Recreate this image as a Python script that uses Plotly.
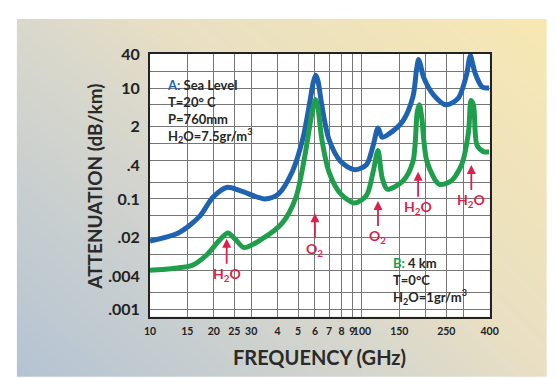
import numpy as np
import plotly.graph_objects as go

# ---------------- data ----------------
# Curve A: sea level, T=20C, P=760mm, H2O=7.5 g/m3
freq_a = [10, 13.6, 17.1, 19.8, 23.0, 26.8, 34.8, 40.4, 47.0, 52.6, 56.7, 59.0, 60.5, 62.0,
          64.6, 69.7, 79.4, 92.3, 105, 113, 119, 124.5, 134, 156, 174, 181, 185, 189, 195,
          218, 249, 284, 312, 320, 325, 331, 343, 369, 398]
atten_a = [0.0174, 0.0243, 0.0478, 0.107, 0.161, 0.140, 0.100, 0.123, 0.315, 1.22, 5.5, 13.0, 17.0, 13.5,
           5.0, 1.22, 0.472, 0.337, 0.413, 0.93, 1.9, 1.30, 1.49, 2.55, 7.0, 22.0, 33.0, 26.0, 16.0,
           7.5, 5.0, 6.5, 18.0, 32.0, 39.0, 30.0, 18.0, 10.5, 10.0]

# Curve B: 4 km, T=0C, H2O=1 g/m3
freq_b = [10, 12.6, 15.8, 18.4, 21.4, 23.3, 25.3, 27.8, 33.5, 42.0, 48.8, 53.5, 57.7, 59.5, 60.5,
          61.8, 64.6, 69.7, 79.4, 92.3, 105, 113, 119, 124.5, 131.5, 156, 174, 182.4, 186.6,
          191.5, 202.6, 231, 263, 295, 318, 327, 336, 349, 376, 398]
atten_b = [0.00516, 0.0055, 0.0063, 0.0095, 0.0185, 0.0243, 0.0185, 0.0132, 0.0185, 0.0365, 0.107,
           0.54, 3.1, 5.4, 6.2, 4.8, 1.22, 0.315, 0.123, 0.084, 0.115, 0.315, 0.75, 0.241, 0.150,
           0.210, 0.472, 3.8, 5.0, 2.9, 0.472, 0.184, 0.210, 0.413, 1.59, 6.0, 4.9, 0.93,
           0.708, 0.708]

x_tick_vals = [10, 15, 20, 25, 30, 40, 50, 60, 70, 80, 90, 100, 150, 250, 400]
x_tick_text = ["10", "15", "20", "25", "30", "4", "5", "6", "7", "8", "9", "100", "150", "250", "400"]
x_grid_vals = [15, 20, 25, 30, 40, 50, 60, 70, 80, 90, 100, 150, 200, 250, 300]

y_tick_vals = [40, 10, 2, 0.4, 0.1, 0.02, 0.004, 0.001]
y_tick_text = ["40", "10", "2", ".4", "0.1", ".02", ".004", ".001"]
y_grid_vals = [0.001, 0.002, 0.005, 0.01, 0.02, 0.05, 0.1, 0.2, 0.5, 1, 2, 5, 10, 20]

# absorption lines (arrow tip positions) and labels
line_freqs = [23, 60, 119, 184, 328]
line_tips = [0.019, 0.055, 0.092, 0.31, 0.41]
line_labels = ["H<sub>2</sub>O", "O<sub>2</sub>", "O<sub>2</sub>", "H<sub>2</sub>O", "H<sub>2</sub>O"]

# ---------------- figure ----------------
W, H = 556, 378
FONT = "Lato"
BLUE = "#1f62b0"
GREEN = "#1f9e4c"
RED = "#dc1f4b"
DARK = "#222222"

fig = go.Figure()

# background gradient panel
fig.add_trace(go.Heatmap(
    x=[0, 1], y=[0, 1], z=[[0.0, 0.6], [0.45, 1.0]],
    zsmooth="best", showscale=False, hoverinfo="skip",
    colorscale=[[0, "#b4c3d3"], [0.45, "#d9d8cc"], [0.6, "#e9dfc3"], [1, "#f7e8b2"]],
    zmin=0, zmax=1, xaxis="x", yaxis="y"))

fig.add_trace(go.Scatter(x=freq_a, y=atten_a, mode="lines", xaxis="x2", yaxis="y2",
                         line=dict(color=BLUE, width=5, shape="spline", smoothing=0.8),
                         hoverinfo="skip", showlegend=False))
fig.add_trace(go.Scatter(x=freq_b, y=atten_b, mode="lines", xaxis="x2", yaxis="y2",
                         line=dict(color=GREEN, width=5, shape="spline", smoothing=0.8),
                         hoverinfo="skip", showlegend=False))

px_x = lambda p: p / W
px_y = lambda p: 1 - p / H

annotations = []
for f, v, lab in zip(line_freqs, line_tips, line_labels):
    annotations.append(dict(
        x=np.log10(f), y=np.log10(v), xref="x2", yref="y2",
        text=lab, showarrow=True, arrowhead=2, arrowsize=1, arrowwidth=1.8,
        arrowcolor=RED, ax=0, ay=36, standoff=0,
        font=dict(family=FONT, size=14, color=RED, weight="bold")))

annotations.append(dict(
    x=px_x(163), y=px_y(68), xref="paper", yref="paper", xanchor="left", yanchor="top",
    align="left", showarrow=False,
    text=(f"<span style='color:{BLUE}'>A:</span> Sea Level<br>T=20° C<br>P=760mm<br>"
          "H<sub>2</sub>O=7.5gr/m<sup>3</sup>"),
    font=dict(family=FONT, size=13, color="#262626", weight="bold")))

annotations.append(dict(
    x=px_x(396), y=px_y(251), xref="paper", yref="paper", xanchor="left", yanchor="top",
    align="left", showarrow=False,
    text=(f"<span style='color:{GREEN}'>B:</span> 4 km<br>T=0°C<br>"
          "H<sub>2</sub>O=1gr/m<sup>3</sup>"),
    font=dict(family=FONT, size=13, color="#262626", weight="bold")))

annotations.append(dict(
    x=px_x(91), y=px_y(183), xref="paper", yref="paper", xanchor="center", yanchor="middle",
    textangle=-90, showarrow=False, text="ATTENUATION (dB/km)",
    font=dict(family=FONT, size=19, color="#2a2a2a", weight="bold")))

annotations.append(dict(
    x=px_x(322), y=px_y(357), xref="paper", yref="paper", xanchor="center", yanchor="middle",
    showarrow=False, text="FREQUENCY (GHz)",
    font=dict(family=FONT, size=20, color="#2a2a2a", weight="bold")))

fig.update_layout(
    width=W, height=H, margin=dict(l=0, r=0, t=0, b=0),
    paper_bgcolor="white", plot_bgcolor="white", showlegend=False,
    xaxis=dict(domain=[px_x(11), 1], range=[0, 1], visible=False, fixedrange=True),
    yaxis=dict(domain=[0, px_y(10)], range=[0, 1], visible=False, fixedrange=True),
    xaxis2=dict(
        type="log", domain=[px_x(148), px_x(497)], range=[1, np.log10(400)], anchor="y2",
        tickmode="array", tickvals=x_tick_vals, ticktext=x_tick_text, tickangle=0,
        showgrid=False, zeroline=False, ticks="", ticklabelstandoff=4,
        tickfont=dict(family=FONT, size=10.5, color=DARK, weight="bold"),
        showline=True, mirror=True, linecolor=DARK, linewidth=2,
        minor=dict(tickmode="array", tickvals=x_grid_vals, showgrid=True,
                   gridcolor="#767676", gridwidth=1, ticks="")),
    yaxis2=dict(
        type="log", domain=[px_y(316), px_y(46)], range=[-3.126, 1.62], anchor="x2",
        tickmode="array", tickvals=y_tick_vals, ticktext=y_tick_text,
        showgrid=False, zeroline=False, ticks="", ticklabelstandoff=5,
        tickfont=dict(family=FONT, size=16, color=DARK, weight="bold"),
        showline=True, mirror=True, linecolor=DARK, linewidth=2,
        minor=dict(tickmode="array", tickvals=y_grid_vals, showgrid=True,
                   gridcolor="#767676", gridwidth=1, ticks="")),
    annotations=annotations,
)

fig.write_html("out.html")
